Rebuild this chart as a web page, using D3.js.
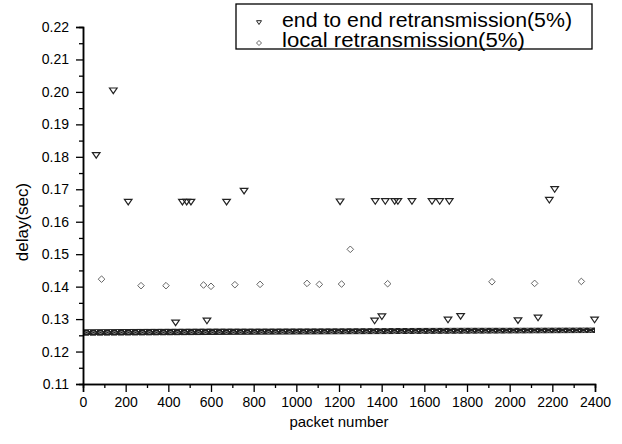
<!DOCTYPE html>
<html>
<head>
<meta charset="utf-8">
<script src="https://cdn.jsdelivr.net/npm/d3@7"></script>
<style>
  body { margin: 0; background: #fff; }
  svg { display: block; font-family: "Liberation Sans", Arial, sans-serif; }
</style>
</head>
<body>
<div id="chart"></div>
<script>
// end to end retransmission (triangles)
const endPackets = [62, 142, 212, 434, 466, 486, 506, 581, 673, 755, 1205, 1367, 1370, 1401,
  1417, 1461, 1476, 1542, 1636, 1672, 1711, 1717, 1770, 2039, 2133, 2186, 2211, 2398];
const endDelay = [0.1805, 0.2004, 0.1661, 0.1289, 0.1661, 0.1661, 0.1661, 0.1295, 0.1661, 0.1695,
  0.1662, 0.1295, 0.1663, 0.1308, 0.1663, 0.1663, 0.1663, 0.1663, 0.1663, 0.1663, 0.1298, 0.1663,
  0.1309, 0.1296, 0.1304, 0.1667, 0.1700, 0.1298];

// local retransmission (diamonds)
const localPackets = [87, 272, 389, 565, 600, 712, 830, 1050, 1108, 1212, 1253, 1428, 1917, 2117, 2336];
const localDelay = [0.1423, 0.1403, 0.1403, 0.1405, 0.1401, 0.1406, 0.1407, 0.1410, 0.1407, 0.1408,
  0.1515, 0.1409, 0.1415, 0.1410, 0.1416];

// dense band of normal packets (edges)
const bandPackets = [0, 600, 1200, 1800, 2400];
const bandLow = [0.1249, 0.1251, 0.1253, 0.1255, 0.1257];
const bandHigh = [0.1269, 0.1271, 0.1272, 0.1273, 0.1274];

const xTicks = d3.range(0, 2401, 200);
const yTicks = [0.11, 0.12, 0.13, 0.14, 0.15, 0.16, 0.17, 0.18, 0.19, 0.20, 0.21, 0.22];
const legendLabels = ["end to end retransmission(5%)", "local retransmission(5%)"];

const width = 622, height = 444;
const svg = d3.select("#chart").append("svg")
  .attr("width", width).attr("height", height);

const x = d3.scaleLinear().domain([0, 2400]).range([83, 595]);
const y = d3.scaleLinear().domain([0.11, 0.22]).range([384, 27]);

// texture for the band
const defs = svg.append("defs");
const pat = defs.append("pattern").attr("id", "speckle")
  .attr("patternUnits", "userSpaceOnUse").attr("width", 7).attr("height", 5);
pat.append("rect").attr("width", 7).attr("height", 5).attr("fill", "#222");
pat.append("path").attr("d", "M1,2.5 L2.5,1 L4,2.5 L2.5,4 Z")
  .attr("fill", "none").attr("stroke", "#bbb").attr("stroke-width", 0.7);
pat.append("rect").attr("x", 5).attr("y", 0).attr("width", 1).attr("height", 1).attr("fill", "#ddd");

const bandData = bandPackets.map((p, i) => ({p: p, lo: bandLow[i], hi: bandHigh[i]}));
svg.append("path")
  .datum(bandData)
  .attr("d", d3.area().x(d => x(d.p)).y0(d => y(d.lo)).y1(d => y(d.hi)))
  .attr("fill", "url(#speckle)");

// axes
svg.append("g").attr("transform", "translate(83,0)")
  .call(d3.axisLeft(y).tickValues(yTicks).tickFormat(d3.format(".2f")).tickSize(7).tickPadding(7));
svg.append("g").attr("transform", "translate(83,0)")
  .call(d3.axisLeft(y).tickValues(d3.range(0.115, 0.22, 0.01)).tickFormat("").tickSize(4));

svg.append("g").attr("transform", "translate(0,384)")
  .call(d3.axisBottom(x).tickValues(xTicks).tickFormat(d3.format("d")).tickSize(8).tickPadding(5));
svg.append("g").attr("transform", "translate(0,384)")
  .call(d3.axisBottom(x).tickValues(d3.range(100, 2400, 200)).tickFormat("").tickSize(4));

svg.selectAll(".domain").attr("stroke", "#000").attr("stroke-width", 1.5);
svg.selectAll(".tick line").attr("stroke", "#000").attr("stroke-width", 1.3);
svg.selectAll(".tick text").attr("font-size", 14).attr("fill", "#000")
  .attr("font-family", "Liberation Sans, Arial, sans-serif");

// markers
const tri = "M-3.8,-2.6 L3.8,-2.6 L0,3 Z";
const dia = "M0,-3.3 L3.3,0 L0,3.3 L-3.3,0 Z";

svg.append("g").selectAll("path")
  .data(localPackets.map((p, i) => [p, localDelay[i]]))
  .join("path")
  .attr("d", dia)
  .attr("transform", d => `translate(${x(d[0])},${y(d[1])})`)
  .attr("fill", "none").attr("stroke", "#666").attr("stroke-width", 1);

svg.append("g").selectAll("path")
  .data(endPackets.map((p, i) => [p, endDelay[i]]))
  .join("path")
  .attr("d", tri)
  .attr("transform", d => `translate(${x(d[0])},${y(d[1])})`)
  .attr("fill", "none").attr("stroke", "#222").attr("stroke-width", 1.2);

// axis titles
svg.append("text")
  .attr("x", 339).attr("y", 427)
  .attr("text-anchor", "middle").attr("font-size", 15)
  .text("packet number");

svg.append("text")
  .attr("transform", "translate(28,222) rotate(-90)")
  .attr("text-anchor", "middle").attr("font-size", 17)
  .text("delay(sec)");

// legend
const legend = svg.append("g");
legend.append("rect")
  .attr("x", 236).attr("y", 4).attr("width", 356).attr("height", 45)
  .attr("fill", "#fff").attr("stroke", "#000").attr("stroke-width", 1.3);
legend.append("path").attr("d", "M-2.5,-1.8 L2.5,-1.8 L0,2 Z")
  .attr("transform", "translate(259,22.5)")
  .attr("fill", "none").attr("stroke", "#222").attr("stroke-width", 1);
legend.append("path").attr("d", "M0,-2.5 L2.5,0 L0,2.5 L-2.5,0 Z")
  .attr("transform", "translate(259,43)")
  .attr("fill", "none").attr("stroke", "#666").attr("stroke-width", 1);
legend.append("text").attr("x", 282).attr("y", 26.5).attr("font-size", 20)
  .attr("textLength", 290).attr("lengthAdjust", "spacingAndGlyphs")
  .text(legendLabels[0]);
legend.append("text").attr("x", 282).attr("y", 46.5).attr("font-size", 20)
  .attr("textLength", 243).attr("lengthAdjust", "spacingAndGlyphs")
  .text(legendLabels[1]);
</script>
</body>
</html>
